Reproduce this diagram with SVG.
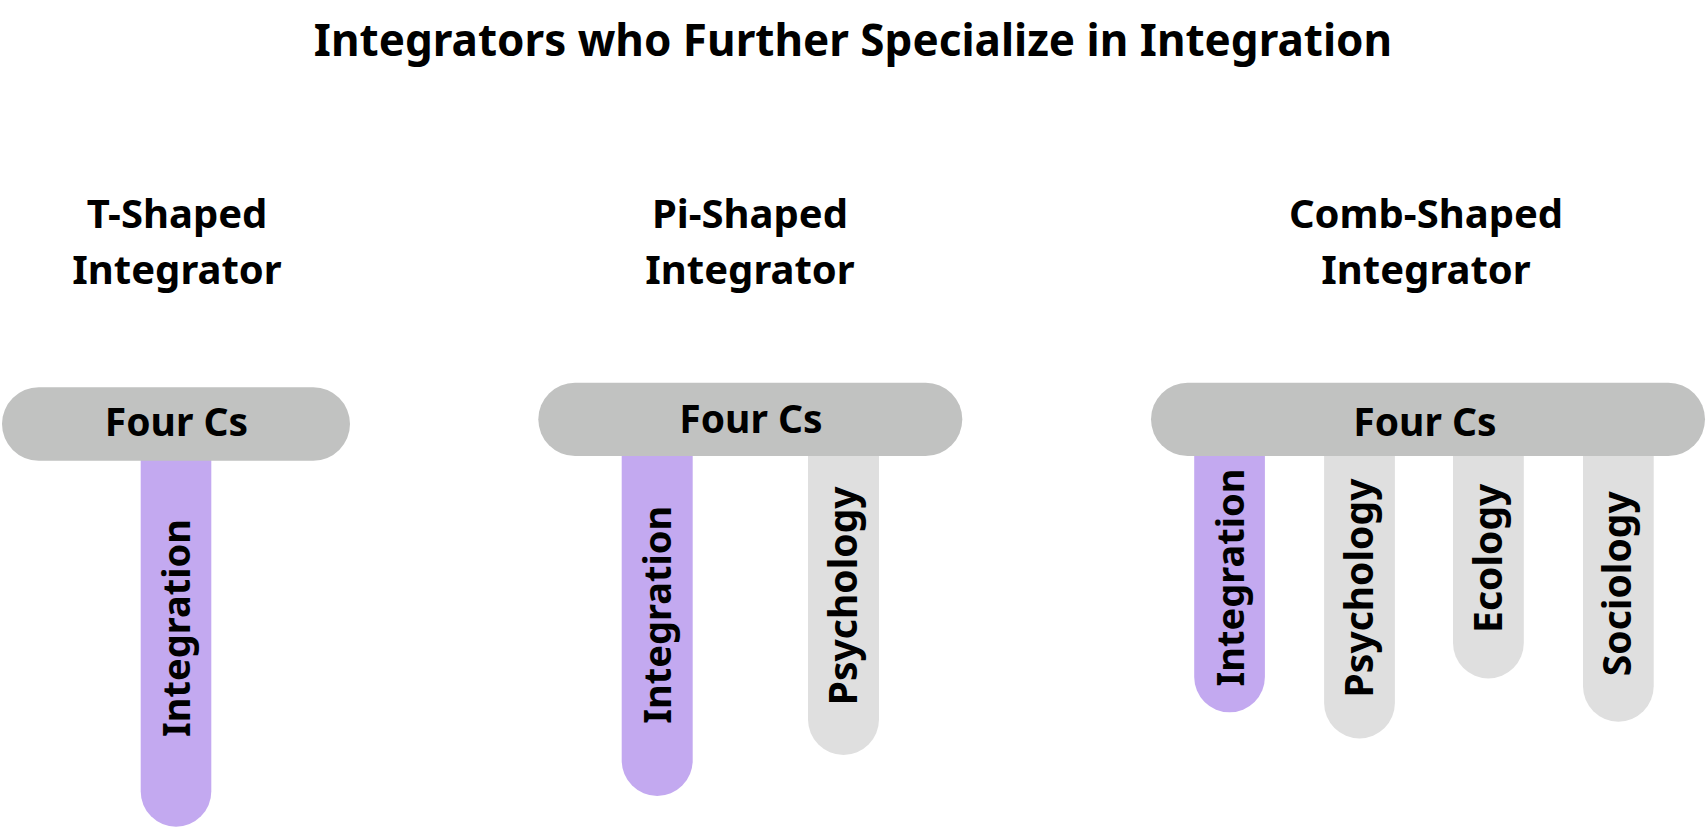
<svg xmlns="http://www.w3.org/2000/svg" width="1706" height="828" viewBox="0 0 1706 828">
<style>
text{font-family:"Noto Sans","Open Sans","Liberation Sans",sans-serif;font-weight:700;fill:#000}
.title{font-size:44px}
.sub{font-size:40px}
.pill{fill:#C1C2C1}
.pilltxt{font-size:39px}
.bar-main{fill:#C3A9F0}
.bar-other{fill:#DFDFDF}
.bartxt{font-size:39px}
.bartxt-i{font-size:38px}
</style>
<rect width="1706" height="828" fill="#fff"/>
<text class="title" x="853" y="56" text-anchor="middle">Integrators who Further Specialize in Integration</text>

<g id="t-shaped">
  <text class="sub" x="177" y="228" text-anchor="middle">T-Shaped</text>
  <text class="sub" x="177" y="284" text-anchor="middle">Integrator</text>
  <g id="t-integration">
    <path class="bar-main" d="M140.7 424H211.3V791.4A35.3 35.3 0 0 1 140.7 791.4Z"/>
    <text class="bartxt-i" transform="translate(190,628) rotate(-90)" text-anchor="middle">Integration</text>
  </g>
  <g id="t-fourcs">
    <rect class="pill" x="2" y="387.3" width="348" height="73.4" rx="36.7"/>
    <text class="pilltxt" x="176.5" y="435.7" text-anchor="middle">Four Cs</text>
  </g>
</g>

<g id="pi-shaped">
  <text class="sub" x="750" y="228" text-anchor="middle">Pi-Shaped</text>
  <text class="sub" x="750" y="284" text-anchor="middle">Integrator</text>
  <g id="pi-integration">
    <path class="bar-main" d="M621.7 420H692.7V760.5A35.5 35.5 0 0 1 621.7 760.5Z"/>
    <text class="bartxt-i" transform="translate(670.7,614.7) rotate(-90)" text-anchor="middle">Integration</text>
  </g>
  <g id="pi-psychology">
    <path class="bar-other" d="M808 420H879V719.5A35.5 35.5 0 0 1 808 719.5Z"/>
    <text class="bartxt" transform="translate(856.7,595.8) rotate(-90)" text-anchor="middle">Psychology</text>
  </g>
  <g id="pi-fourcs">
    <rect class="pill" x="538.3" y="382.7" width="424" height="73.3" rx="36.7"/>
    <text class="pilltxt" x="751" y="432.7" text-anchor="middle">Four Cs</text>
  </g>
</g>

<g id="comb-shaped">
  <text class="sub" x="1426" y="228" text-anchor="middle">Comb-Shaped</text>
  <text class="sub" x="1426" y="284" text-anchor="middle">Integrator</text>
  <g id="comb-integration">
    <path class="bar-main" d="M1194.2 420H1264.9V677A35.35 35.35 0 0 1 1194.2 677Z"/>
    <text class="bartxt-i" transform="translate(1243.6,577.5) rotate(-90)" text-anchor="middle">Integration</text>
  </g>
  <g id="comb-psychology">
    <path class="bar-other" d="M1324.1 420H1394.9V703A35.4 35.4 0 0 1 1324.1 703Z"/>
    <text class="bartxt" transform="translate(1372.9,588) rotate(-90)" text-anchor="middle">Psychology</text>
  </g>
  <g id="comb-ecology">
    <path class="bar-other" d="M1453 420H1523.8V643A35.4 35.4 0 0 1 1453 643Z"/>
    <text class="bartxt" transform="translate(1502.1,558.3) rotate(-90)" text-anchor="middle">Ecology</text>
  </g>
  <g id="comb-sociology">
    <path class="bar-other" d="M1583 420H1653.7V686.3A35.35 35.35 0 0 1 1583 686.3Z"/>
    <text class="bartxt" transform="translate(1631,583.7) rotate(-90)" text-anchor="middle">Sociology</text>
  </g>
  <g id="comb-fourcs">
    <rect class="pill" x="1151" y="382.7" width="554" height="73.3" rx="36.7"/>
    <text class="pilltxt" x="1425" y="435.7" text-anchor="middle">Four Cs</text>
  </g>
</g>

<g id="connectors"></g>
</svg>
